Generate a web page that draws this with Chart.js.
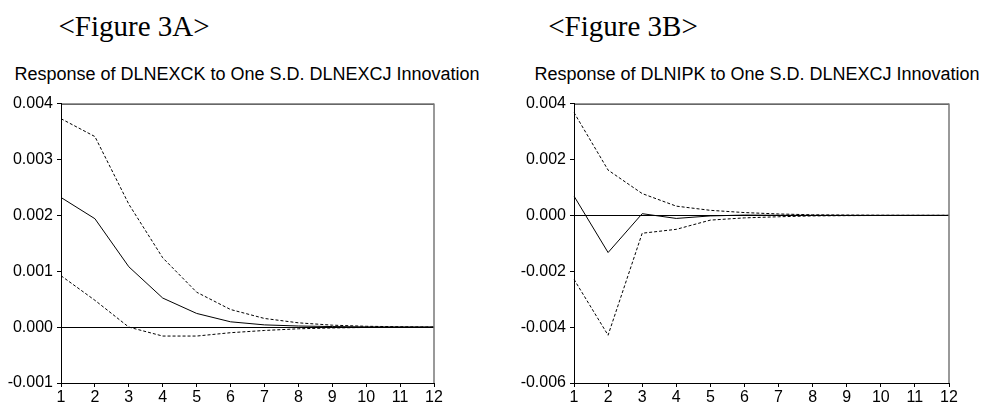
<!DOCTYPE html>
<html lang="en">
<head>
  <meta charset="UTF-8">
  <title>Figure 3A / 3B impulse responses</title>
  <script src="https://cdn.jsdelivr.net/npm/chart.js"></script>
  <style>
    body {
      margin: 0;
      width: 988px;
      height: 407px;
      background: #fff;
      position: relative;
      overflow: hidden;
    }
    .fig {
      position: absolute;
      font-family: "Liberation Serif", "Times New Roman", serif;
      font-size: 29px;
      line-height: 1;
      transform: translateX(-50%);
      white-space: nowrap;
    }
    .ttl {
      position: absolute;
      font-family: "Liberation Sans", Arial, sans-serif;
      font-size: 18px;
      line-height: 1;
      transform: translateX(-50%);
      white-space: nowrap;
    }
    canvas {
      position: absolute;
      top: 90px;
    }
  </style>
</head>
<body>

  <div class="fig" style="left:134px; top:12px;">&lt;Figure 3A&gt;</div>
  <div class="fig" style="left:623px; top:12px;">&lt;Figure 3B&gt;</div>
  <div class="ttl" style="left:247px; top:65px;">Response of DLNEXCK to One S.D. DLNEXCJ Innovation</div>
  <div class="ttl" style="left:757px; top:65px;">Response of DLNIPK to One S.D. DLNEXCJ Innovation</div>

  <canvas id="chartA" width="494" height="317" style="left:0px;"></canvas>
  <canvas id="chartB" width="494" height="317" style="left:494px;"></canvas>

  <script>
    const periods = ['1','2','3','4','5','6','7','8','9','10','11','12'];

    // Figure 3A: DLNEXCK response
    const respA  = [0.00232, 0.00194, 0.00108, 0.00052, 0.000245, 0.000095, 0.00004, 0.00002, 0.00001, 0.000004, 0.000002, 0.000001];
    const upperA = [0.00373, 0.00341, 0.00220, 0.00124, 0.000625, 0.000315, 0.000155, 0.000077, 0.000035, 0.000015, 0.000007, 0.000003];
    const lowerA = [0.00092, 0.00048, 0.00000, -0.00016, -0.00016, -0.00010, -0.00006, -0.00003, -0.000015, -0.000006, -0.000003, -0.000001];

    // Figure 3B: DLNIPK response
    const respB  = [0.00069, -0.00133, 0.00006, -0.00011, -0.00002, 0.00001, 0.000004, 0.000001, 0, 0, 0, 0];
    const upperB = [0.00368, 0.00162, 0.00078, 0.00033, 0.00018, 0.00010, 0.00005, 0.00002, 0.00001, 0.000004, 0.000002, 0.000001];
    const lowerB = [-0.00229, -0.00429, -0.00064, -0.00050, -0.00017, -0.00009, -0.00005, -0.00002, -0.00001, -0.000004, -0.000002, -0.000001];

    const tickFont = { family: 'Liberation Sans, Arial, sans-serif', size: 16 };

    // top + right edge of the plot box
    const frame = {
      id: 'frame',
      afterDraw(chart) {
        const a = chart.chartArea, c = chart.ctx;
        c.save();
        c.lineWidth = 1;
        c.strokeStyle = '#000';
        c.beginPath();
        c.moveTo(a.left, a.top + 0.5);
        c.lineTo(a.right, a.top + 0.5);
        c.stroke();
        c.strokeStyle = '#777';
        c.lineWidth = 1.5;
        c.beginPath();
        c.moveTo(a.right, a.top);
        c.lineTo(a.right, a.bottom);
        c.stroke();
        c.restore();
      }
    };

    function line(data, dashed) {
      return {
        data: data,
        borderColor: '#000',
        borderWidth: 1,
        borderDash: dashed ? [3, 2] : [],
        pointRadius: 0,
        tension: 0,
        fill: false
      };
    }

    function makeChart(id, resp, upper, lower, ymin, ymax, step, yWidth, padRight) {
      new Chart(document.getElementById(id), {
        type: 'line',
        data: {
          labels: periods,
          datasets: [line(resp, false), line(upper, true), line(lower, true)]
        },
        options: {
          responsive: false,
          animation: false,
          layout: { padding: { top: 13, right: padRight, bottom: 0, left: 0 } },
          plugins: { legend: { display: false }, tooltip: { enabled: false } },
          scales: {
            x: {
              offset: false,
              grid: { drawOnChartArea: false, tickLength: 4, tickColor: '#000' },
              border: { display: true, color: '#000', width: 1 },
              ticks: { color: '#000', font: tickFont, padding: 1, maxRotation: 0, autoSkip: false },
              afterFit(s) { s.height = 24; }
            },
            y: {
              min: ymin,
              max: ymax,
              grid: {
                color: ctx => (ctx.tick && Math.abs(ctx.tick.value) < 1e-9) ? '#000' : 'rgba(0,0,0,0)',
                tickLength: 4,
                tickColor: '#000'
              },
              border: { display: true, color: '#000', width: 1 },
              ticks: {
                stepSize: step,
                color: '#000',
                font: tickFont,
                padding: 4,
                callback: v => v.toFixed(3)
              },
              afterFit(s) { s.width = yWidth; }
            }
          }
        },
        plugins: [frame]
      });
    }

    makeChart('chartA', respA, upperA, lowerA, -0.001, 0.004, 0.001, 61, 60);
    makeChart('chartB', respB, upperB, lowerB, -0.006, 0.004, 0.002, 80, 39);
  </script>
</body>
</html>
